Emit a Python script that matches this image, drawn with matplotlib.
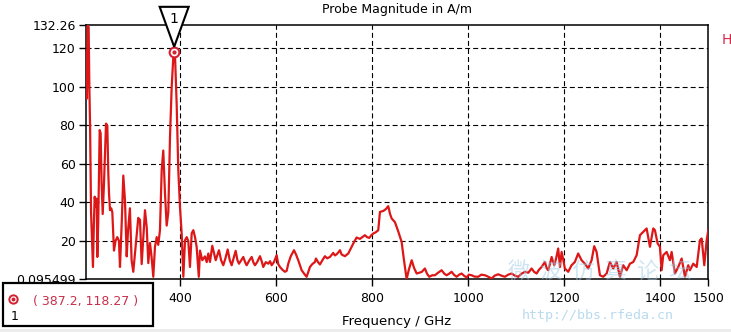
import matplotlib
matplotlib.use("Agg")
import matplotlib.pyplot as plt
import matplotlib.transforms as mtransforms
from matplotlib.patches import Polygon, Rectangle

plt.rcParams['font.family'] = ['DejaVu Sans']
plt.rcParams['lines.scale_dashes'] = False

# Probe field magnitude versus frequency
freq_ghz = [
    203.5, 204.5, 205.5, 207, 209, 210.5, 212, 214, 216, 218, 220, 221.6, 224, 225.8,
    227.1, 229, 232, 234, 236, 238.3, 241, 245.2, 247.9, 250, 251.4, 253.5, 256, 258.3,
    261.8, 265, 268.7, 272.2, 274.3, 278, 281.2, 284.7, 288.3, 291, 295, 298.5, 302,
    306, 312.4, 316, 319.5, 322.5, 326.4, 330, 333.3, 336.8, 340, 343.7, 347.2, 350.8,
    354, 357.6, 361.2, 364.5, 368, 371.6, 375, 378.5, 382, 385.5, 387.2, 389, 392.4,
    395.8, 399.3, 402.8, 406.3, 409.8, 413.3, 416.6, 420.1, 423.7, 427.1, 430.6, 434,
    438.5, 441, 445.8, 451.4, 455, 458.3, 461.8, 466.6, 473.7, 480.5, 485, 489.5, 494,
    498.7, 503, 507, 511, 515.3, 519, 522.2, 527, 531.2, 535, 538.2, 544, 548.7, 552,
    555.5, 560, 565.9, 569.5, 572.8, 578, 583.2, 587, 590.3, 595, 600.7, 604, 607.6,
    613, 618, 621.6, 624.9, 630, 636.8, 641, 645.7, 652.8, 658, 663.2, 670.1, 675,
    680.5, 682.6, 687, 690.9, 696, 701.3, 706, 711.7, 718.6, 722, 725.7, 729, 732.6,
    736, 743, 749.9, 757, 762, 767.4, 770, 774.2, 779, 784.6, 789, 793.6, 798, 802,
    807, 812.4, 815.9, 822.8, 828, 833.2, 837, 840.3, 847.1, 854, 861.1, 866, 871.5,
    876, 882, 887, 892.4, 902.8, 909.6, 914, 918.6, 925, 930.5, 937, 944.4, 950,
    954.8, 960, 965.2, 970, 975.6, 981, 986, 991, 996.5, 1001, 1006.9, 1013, 1020.7,
    1027, 1034.6, 1041, 1048.6, 1055, 1062.3, 1069, 1076.3, 1083, 1090.2, 1097, 1104,
    1111, 1118, 1125, 1131.9, 1137, 1142.3, 1147, 1152.7, 1159.6, 1163, 1166.5, 1170,
    1173.6, 1179.1, 1183, 1187.3, 1191, 1194.4, 1198, 1201.2, 1208.1, 1215.1, 1222,
    1228.9, 1236, 1242.9, 1249.8, 1256.9, 1262.3, 1267.3, 1274.2, 1281.1, 1288.2,
    1295, 1301.9, 1309, 1315.9, 1322.8, 1329.9, 1336.7, 1343.7, 1350.7, 1357.6,
    1364.4, 1371.5, 1378.4, 1385.3, 1388.8, 1394.4, 1399.2, 1402.8, 1406.1, 1413.2,
    1420, 1423.6, 1430.5, 1437.4, 1444.5, 1451.4, 1458.2, 1461.8, 1468.7, 1475.8,
    1482.6, 1486.2, 1491.6, 1496.6, 1500,
]
magnitude = [
    119, 100, 94, 132.2, 131, 100, 80, 35, 20, 6.5, 30, 43, 38, 42,
    11.7, 30, 77.6, 76, 50, 34, 50, 81, 80, 55, 45, 36, 37, 35,
    15, 20, 22, 20, 6.5, 30, 54, 41, 12, 25, 37, 10, 4,
    15, 32, 31, 8, 20, 36, 27, 8.5, 19, 12, 1.4, 17, 22,
    18, 25.6, 56.8, 67, 45, 28, 35, 74, 100, 116, 118.27, 116, 91,
    56.8, 37.7, 24, 1.4, 20.4, 22, 20, 6.5, 24, 25.6, 22, 17,
    1.4, 15, 10, 12, 9, 13.5, 9.1, 17.5, 10, 15.2, 10, 7.4, 11,
    15.6, 10, 7.4, 11, 14.9, 10, 8.2, 10, 11.7, 9, 7.4, 10, 11.7, 9,
    7.4, 9, 12.1, 9.5, 6.5, 9, 8.2, 9.5, 7.4, 9, 12.6, 8, 6.5,
    5, 4, 4.5, 8.2, 12, 15.2, 13, 10, 4.8, 3, 1.4, 6.5, 8,
    9.1, 10.9, 9, 7.8, 10, 12.1, 11, 11.7, 13.8, 12.5, 13.1, 14, 15.2,
    13, 12.1, 13.5, 17, 19.5, 21.8, 21.5, 21.1, 22, 23, 22, 21.6, 23, 23.9,
    24.5, 25.6, 35.1, 35.6, 36.5, 38.1, 34, 31.7, 29.8, 25, 19.5, 10, 0.15,
    5, 10, 6, 3.1, 3.9, 5.7, 3, 1.4, 2.2, 2.2, 3.5, 4.8, 3,
    2.2, 3, 4, 2.5, 1.4, 2.5, 3.1, 2, 1, 2.5, 2.2, 1.5, 1.4,
    2.5, 2.2, 1.5, 0.5, 2, 2.7, 2, 1.4, 2.5, 3.1, 2, 1.4,
    3, 4, 3.5, 5.7, 4, 3.1, 5, 6.5, 9.1, 6, 4.8, 8,
    11.7, 7.4, 11, 16.1, 6.5, 14.3, 10, 5.7, 4, 7.4, 9.1,
    13.5, 10, 8.2, 5.7, 10, 17.3, 14.3, 2.2, 1.4, 3.1,
    9.1, 5.7, 9.1, 1.4, 7.4, 4.8, 8.2, 9.1, 12.6, 23,
    24.7, 26.5, 17, 26.5, 25.6, 18.7, 17, 4.8, 12.6, 14.3,
    10, 14.3, 3.1, 6.5, 10.9, 1.4, 7.4, 4.8, 8.2, 6.5,
    20.4, 21.3, 7.4, 20.4, 25.6,
]

x_ticks = [400, 600, 800, 1000, 1200, 1400, 1500]
y_ticks = [0.095499, 20, 40, 60, 80, 100, 120, 132.26]
y_tick_labels = ["0.095499", "20", "40", "60", "80", "100", "120", "132.26"]
x_range = (203.5, 1500)
y_range = (0.095499, 132.26)

marker_freq = 387.2
marker_value = 118.27

W, H = 731, 332
fig = plt.figure(figsize=(W / 100, H / 100), dpi=100)
fig.patch.set_facecolor("white")

def fx(px):
    return px / W

def fy(py):
    return 1 - py / H

left, right, top, bottom = 86, 708.3, 24.9, 279.3
ax = fig.add_axes([fx(left), fy(bottom), fx(right - left), (bottom - top) / H])
ax.set_xlim(*x_range)
ax.set_ylim(*y_range)

line_red = "#dd1717"
ax.plot(freq_ghz, magnitude, color=line_red, lw=1.6, zorder=3, solid_joinstyle="round")

ax.set_xticks(x_ticks)
ax.set_xticklabels([str(t) for t in x_ticks])
ax.set_yticks(y_ticks)
ax.set_yticklabels(y_tick_labels)
ax.tick_params(axis="both", direction="out", length=5, width=1.0, colors="black",
               labelsize=9, pad=2.5)
ax.tick_params(axis="x", pad=4)

# dashed grid at the interior ticks only
grid_kw = dict(color="black", lw=0.8, dashes=(3.6, 2.2), zorder=1)
for yv in y_ticks[1:-1]:
    ax.axhline(yv, **grid_kw)
for xv in x_ticks[:-1]:
    ax.axvline(xv, **grid_kw)

for sp in ax.spines.values():
    sp.set_color("black")
    sp.set_linewidth(1.1)

# title, axis label and quantity tag
fig.text(fx(397), fy(10), "Probe Magnitude in A/m", ha="center", va="center", fontsize=9)
fig.text(fx(397), fy(321), "Frequency / GHz", ha="center", va="center", fontsize=9.5)
fig.text(fx(727), fy(40), "H", ha="center", va="center", fontsize=10, color="#d8284a")

# marker 1 on the peak
ax.plot([marker_freq], [marker_value], marker="o", ms=7, mfc="white", mec="#d42030",
        mew=1.5, zorder=6, clip_on=False)
ax.plot([marker_freq], [marker_value], marker="o", ms=2, color="#d42030", zorder=7,
        clip_on=False)

px_in = 1 / 100
tri_trans = fig.dpi_scale_trans + mtransforms.ScaledTranslation(marker_freq, marker_value,
                                                                ax.transData)
tri = Polygon([(0, 5 * px_in), (-14.5 * px_in, 45 * px_in), (14.5 * px_in, 45 * px_in)],
              closed=True, facecolor="white", edgecolor="black", lw=1.5,
              transform=tri_trans, clip_on=False, zorder=8)
ax.add_artist(tri)
ax.text(0, 33 * px_in, "1", transform=tri_trans, ha="center", va="center", fontsize=10,
        zorder=9, clip_on=False)

# marker readout box
fig.add_artist(Rectangle((fx(3), fy(326)), fx(150), (326 - 283) / H, transform=fig.transFigure,
                         facecolor="white", edgecolor="black", lw=1.6, zorder=10))
fig.add_artist(plt.Line2D([fx(13)], [fy(299)], marker="o", ms=6, mfc="white",
                          mec="#d42030", mew=1.4, transform=fig.transFigure, zorder=11))
fig.add_artist(plt.Line2D([fx(13)], [fy(299)], marker="o", ms=1.8, color="#d42030",
                          transform=fig.transFigure, zorder=12))
fig.text(fx(15), fy(317), "1", ha="center", va="center", fontsize=9, zorder=12)
fig.text(fx(33), fy(302), f"( {marker_freq}, {marker_value} )", ha="left", va="center",
         fontsize=9, color="#c8304a", zorder=12)

# forum watermark
fig.text(fx(600), fy(272), "微  波  仿  真  论  坛", ha="center", va="center", fontsize=16,
         color="#9ccbe6", alpha=0.5, family=["Noto Sans CJK SC", "DejaVu Sans"],
         style="italic", zorder=4)
fig.text(fx(598), fy(316), "http://bbs.rfeda.cn", ha="center", va="center", fontsize=9.5,
         color="#9ccbe6", alpha=0.7, family="DejaVu Sans Mono", zorder=4)

# thin grey strip along the bottom edge
fig.add_artist(Rectangle((0, 0), 1, 3 / H, transform=fig.transFigure, facecolor="#ececec",
                         edgecolor="none", zorder=0))

fig.savefig("out.png", dpi=100, facecolor="white")
